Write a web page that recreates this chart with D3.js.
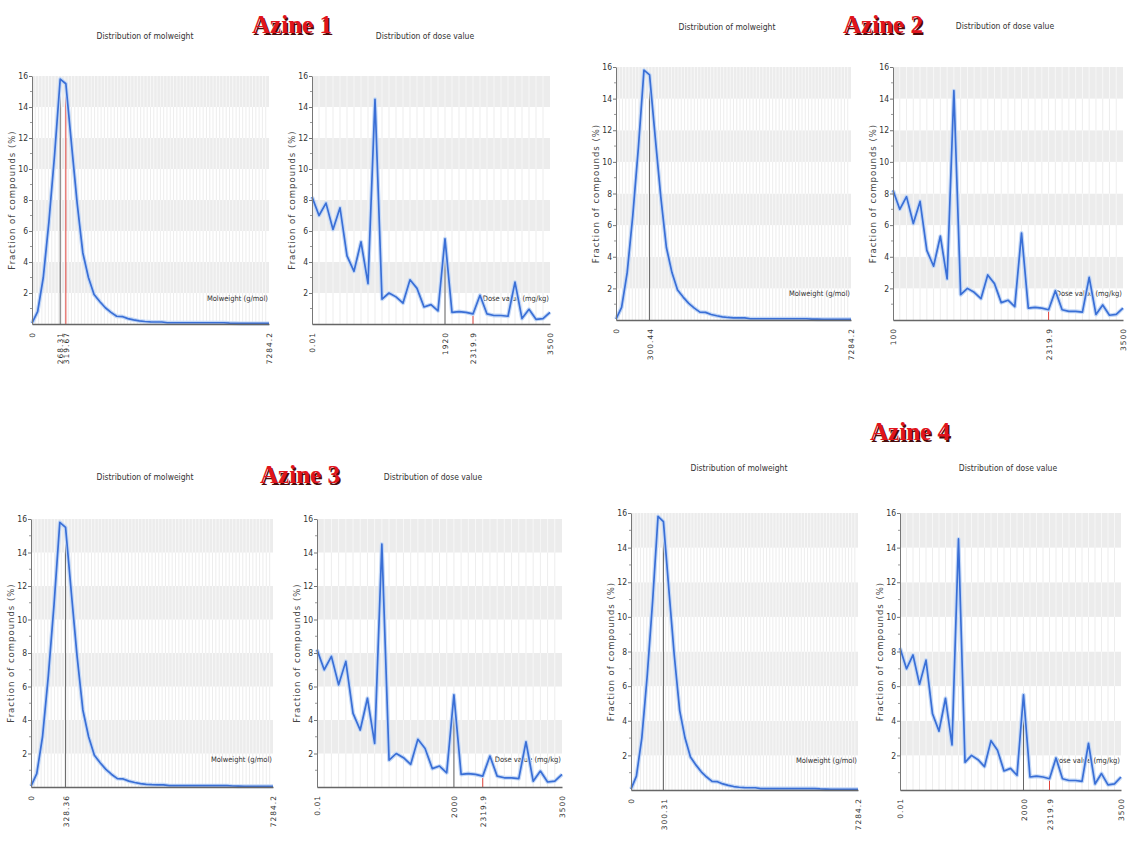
<!DOCTYPE html>
<html>
<head>
<meta charset="utf-8">
<script src="https://cdn.jsdelivr.net/npm/d3@7/dist/d3.min.js"></script>
<style>
body { margin: 0; background: #fff; }
svg { display: block; }
</style>
</head>
<body>
<div id="fig"></div>
<script>
// fraction of compounds (%) per molweight bin
const molFraction = [0.05, 0.8, 3.0, 6.6, 10.9, 15.8, 15.5, 11.6, 7.8, 4.6, 3.0, 1.9,
	1.45, 1.05, 0.75, 0.5, 0.48, 0.35, 0.27, 0.2, 0.16, 0.14, 0.13, 0.13, 0.08, 0.08,
	0.08, 0.08, 0.08, 0.08, 0.08, 0.08, 0.08, 0.08, 0.08, 0.06, 0.05, 0.04, 0.04, 0.04,
	0.04, 0.04, 0.04]
// fraction of compounds (%) per dose bin
const doseFraction = [8.2, 7.0, 7.8, 6.1, 7.5, 4.4, 3.4, 5.3, 2.6, 14.5, 1.6, 2.0, 1.75,
	1.35, 2.85, 2.3, 1.1, 1.25, 0.85, 5.5, 0.75, 0.8, 0.75, 0.65, 1.85, 0.65, 0.55, 0.55,
	0.5, 2.7, 0.35, 0.95, 0.3, 0.35, 0.75]
const yTicks = [2, 4, 6, 8, 10, 12, 14, 16]
const azines = ["Azine 1", "Azine 2", "Azine 3", "Azine 4"]

// labelled bins on the x axis (bin index, label)
const molTickLabels = [
	[[0, "0"], [5, "268.31"], [6, "319.67"], [42, "7284.2"]],
	[[0, "0"], [6, "300.44"], [42, "7284.2"]],
	[[0, "0"], [6, "328.36"], [42, "7284.2"]],
	[[0, "0"], [6, "300.31"], [42, "7284.2"]]
]
const doseTickLabels = [
	[[0, "0.01"], [19, "1920"], [23, "2319.9"], [34, "3500"]],
	[[0, "100"], [23, "2319.9"], [34, "3500"]],
	[[0, "0.01"], [19, "2000"], [23, "2319.9"], [34, "3500"]],
	[[0, "0.01"], [19, "2000"], [23, "2319.9"], [34, "3500"]]
]
// marker lines (bin index, kind)
const molMarkers = [
	[[5, "compound"], [6, "reference"]],
	[[6, "compound"]],
	[[6, "compound"]],
	[[6, "compound"]]
]
const doseMarkers = [
	[[19, "compound"], [23, "reference"]],
	[[23, "reference"]],
	[[19, "compound"], [23, "reference"]],
	[[19, "compound"], [23, "reference"]]
]

// layout
var W = 1129, H = 842
var molBoxes = [[32, 76, 269, 324], [616, 67, 851, 320], [31, 519, 273, 787], [631, 513, 858, 790]]
var doseBoxes = [[312, 76, 550, 324], [893, 67, 1123, 320], [317, 519, 562, 787], [900, 513, 1121, 790]]
var molTitles = [[145, 39], [727, 30], [145, 480], [739, 471]]
var doseTitles = [[425, 39], [1005, 29], [433, 480], [1008, 471]]
var azinePos = [[292, 33], [883, 33], [300, 483], [910, 440]]
var markerColor = {compound: "#666", reference: "#e0443c"}
var narrow = "DejaVu Sans Condensed, Liberation Sans Narrow, sans-serif"

var svg = d3.select("#fig").append("svg")
	.attr("width", W)
	.attr("height", H)

function drawChart(box, values, tickLabels, markers, gridCount, title, titlePos, unitLabel) {
	var x0 = box[0], y0 = box[1], x1 = box[2], y1 = box[3]
	var x = d3.scaleLinear().domain([0, values.length - 1]).range([x0, x1])
	var xg = d3.scaleLinear().domain([0, gridCount]).range([x0, x1])
	var y = d3.scaleLinear().domain([0, 16]).range([y1, y0])
	var g = svg.append("g")

	// horizontal bands, alternate grey / white
	var bands = d3.range(0, 16, 2)
	g.selectAll(".band")
		.data(bands)
		.enter()
		.append("rect")
		.attr("x", x0)
		.attr("y", function(d) { return y(d + 2) })
		.attr("width", x1 - x0)
		.attr("height", function(d) { return y(d) - y(d + 2) })
		.attr("fill", function(d) { return (d / 2) % 2 ? "#ececec" : "#fff" })

	// vertical grid, lighter on grey bands
	bands.forEach(function(b) {
		g.append("g").selectAll("line")
			.data(d3.range(1, gridCount))
			.enter()
			.append("line")
			.attr("x1", function(d) { return xg(d) })
			.attr("x2", function(d) { return xg(d) })
			.attr("y1", y(b))
			.attr("y2", y(b + 2))
			.attr("stroke", (b / 2) % 2 ? "#fafafa" : "#e8e8e8")
			.attr("stroke-width", 0.8)
	})

	g.append("text")
		.attr("x", x1 - 1)
		.attr("y", y(2) + 8)
		.attr("text-anchor", "end")
		.attr("font-family", narrow)
		.attr("font-size", 7.5)
		.attr("fill", "#333")
		.text(unitLabel)

	// marker lines from axis up to the curve
	g.selectAll(".marker")
		.data(markers)
		.enter()
		.append("line")
		.attr("x1", function(d) { return x(d[0]) })
		.attr("x2", function(d) { return x(d[0]) })
		.attr("y1", y1)
		.attr("y2", function(d) { return y(values[d[0]]) })
		.attr("stroke", function(d) { return markerColor[d[1]] })
		.attr("stroke-width", 1)

	var line = d3.line()
		.x(function(d, i) { return x(i) })
		.y(function(d) { return y(d) })
	g.append("path")
		.datum(values)
		.attr("d", line)
		.attr("fill", "none")
		.attr("stroke", "#c4d8f6")
		.attr("stroke-width", 4)
		.attr("stroke-linejoin", "round")
	g.append("path")
		.datum(values)
		.attr("d", line)
		.attr("fill", "none")
		.attr("stroke", "#3a6fd6")
		.attr("stroke-width", 1.7)
		.attr("stroke-linejoin", "round")

	// y axis
	var yAxis = g.append("g")
		.attr("transform", "translate(" + x0 + ",0)")
		.call(d3.axisLeft(y).tickValues(yTicks).tickSize(3).tickSizeOuter(0))
	yAxis.select(".domain").attr("stroke", "#777")
	yAxis.selectAll(".tick line").attr("stroke", "#777")
	yAxis.selectAll(".tick text")
		.attr("font-family", narrow)
		.attr("font-size", 8.5)
		.attr("fill", "#333")
		.attr("x", -4)
	g.append("g").selectAll("line")
		.data(d3.range(1, 16, 2))
		.enter()
		.append("line")
		.attr("x1", x0 - 2)
		.attr("x2", x0)
		.attr("y1", function(d) { return y(d) })
		.attr("y2", function(d) { return y(d) })
		.attr("stroke", "#999")

	// x axis
	var xAxis = g.append("g")
		.attr("transform", "translate(0," + y1 + ")")
		.call(d3.axisBottom(x).tickValues(tickLabels.map(function(d) { return d[0] })).tickSize(0))
	xAxis.select(".domain").attr("stroke", "#666").attr("stroke-width", 1.4)
	xAxis.selectAll(".tick text")
		.data(tickLabels)
		.text(function(d) { return d[1] })
		.attr("transform", "rotate(-90)")
		.attr("text-anchor", "end")
		.attr("x", -8)
		.attr("y", 0)
		.attr("dy", "0.35em")
		.attr("font-family", "DejaVu Sans, sans-serif")
		.attr("font-size", 7.5)
		.attr("letter-spacing", 1)
		.attr("fill", "#333")

	g.append("text")
		.attr("transform", "translate(" + (x0 - 17) + "," + ((y0 + y1) / 2) + ") rotate(-90)")
		.attr("text-anchor", "middle")
		.attr("font-family", "DejaVu Sans, sans-serif")
		.attr("font-size", 8.5)
		.attr("letter-spacing", 1)
		.attr("fill", "#444")
		.text("Fraction of compounds (%)")

	g.append("text")
		.attr("x", titlePos[0])
		.attr("y", titlePos[1])
		.attr("text-anchor", "middle")
		.attr("font-family", narrow)
		.attr("font-size", 8.5)
		.attr("fill", "#333")
		.text(title)
}

azines.forEach(function(name, k) {
	drawChart(molBoxes[k], molFraction, molTickLabels[k], molMarkers[k], 72,
		"Distribution of molweight", molTitles[k], "Molweight (g/mol)")
	drawChart(doseBoxes[k], doseFraction, doseTickLabels[k], doseMarkers[k], 34,
		"Distribution of dose value", doseTitles[k], "Dose value (mg/kg)")
})

// panel names with a dark drop shadow
var names = svg.append("g")
names.selectAll(".shadow")
	.data(azines)
	.enter()
	.append("text")
	.attr("x", function(d, i) { return azinePos[i][0] + 1.5 })
	.attr("y", function(d, i) { return azinePos[i][1] + 1.5 })
	.attr("text-anchor", "middle")
	.attr("font-family", "Liberation Serif, serif")
	.attr("font-weight", "bold")
	.attr("font-size", 25)
	.attr("fill", "#4a0a0a")
	.text(function(d) { return d })
names.selectAll(".name")
	.data(azines)
	.enter()
	.append("text")
	.attr("x", function(d, i) { return azinePos[i][0] })
	.attr("y", function(d, i) { return azinePos[i][1] })
	.attr("text-anchor", "middle")
	.attr("font-family", "Liberation Serif, serif")
	.attr("font-weight", "bold")
	.attr("font-size", 25)
	.attr("fill", "#e0141c")
	.text(function(d) { return d })
</script>
</body>
</html>
